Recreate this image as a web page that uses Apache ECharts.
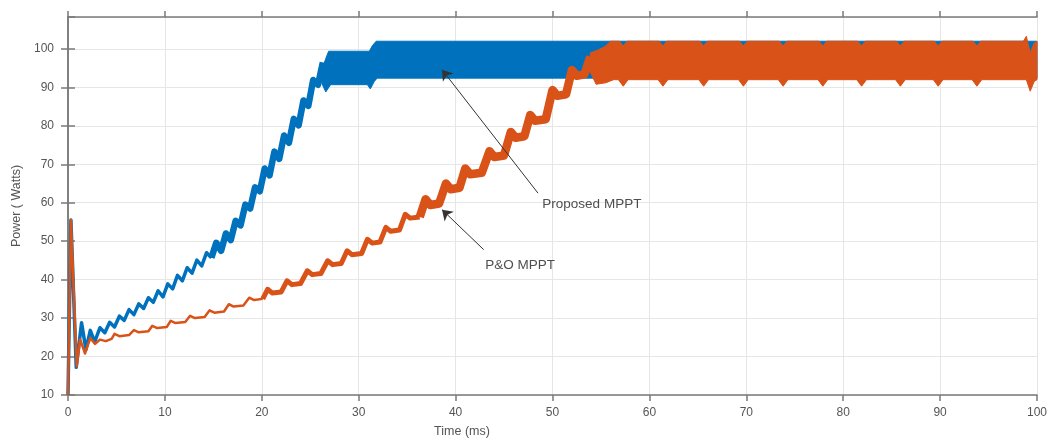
<!DOCTYPE html>
<html><head><meta charset="utf-8">
<script src="https://cdn.jsdelivr.net/npm/echarts@6/dist/echarts.min.js"></script>
<style>html,body{margin:0;padding:0;background:#fff}#c{width:1053px;height:443px}</style>
</head><body><div id="c"></div>
<script>
// ---------------- data: Time (ms) / Power (W) ----------------
// Proposed MPPT (blue)
const blueThinT = [0,0.3,0.85,1.4,1.85,2.3,2.75,3.3,3.8,4.3,4.8,5.3,5.8,6.3,6.8,7.3,7.8,8.3,8.8,9.3,9.8,10.3,10.8,11.3,11.8,12.3,12.8,13.3,13.8,14.3,14.8];
const blueThinP = [10,55.5,17.2,28.8,21.8,26.8,23.8,27.5,26.2,28.9,27.7,30.5,29.4,32.2,30.9,33.7,32.5,35.3,34.1,37.1,35.5,38.9,37.6,41.1,39.7,43.1,41.7,45.1,43.6,47.0,45.7];
const blueThickT = [14.8,15.3,15.8,16.3,16.8,17.3,17.8,18.3,18.8,19.3,19.8,20.3,20.8,21.3,21.8,22.3,22.8,23.3,23.8,24.3,24.8,25.3,25.8,26.3];
const blueThickP = [45.7,49.6,47.5,52.0,50.3,55.3,54.1,59.5,58.5,64.0,63.0,68.9,67.1,73.3,71.4,77.5,75.6,81.8,80.1,86.6,85.2,91.9,90.7,96.5];
const blueBandUpT = [26.2,26.6,26.9,31.1,31.4,31.8,100];
const blueBandUpP = [94.5,97.5,99.4,99.4,100.8,102.0,102.0];
const blueBandLoT = [26.2,26.6,27.1,30.9,31.2,31.6,31.9,100];
const blueBandLoP = [91.0,88.8,90.7,90.7,89.6,91.5,92.4,92.4];

// P&O MPPT (orange)
const orangeThinT = [0,0.3,0.9,1.25,1.75,2.3,2.8,3.3,3.9,4.5,4.8,5.3,6.3,6.8,7.3,8.3,8.7,9.2,10.2,10.6,11.1,12.1,12.6,13.1,14.1,14.6,15.1,16.1,16.6,17.1,18.1,18.7,19.2,20.1];
const orangeThinP = [10,55.5,17.5,24.5,20.8,24.8,23.3,24.4,24.0,24.6,25.9,25.3,25.6,26.9,26.3,26.6,28.0,27.4,27.7,29.3,28.7,29.0,30.6,30.0,30.3,32.0,31.4,31.7,33.6,33.0,33.3,35.3,34.7,35.0];
const orangeMidT = [20.1,20.6,21.1,22.0,22.6,23.1,24.0,24.7,25.2,26.1,26.8,27.3,28.2,28.8,29.3,30.3,30.9,31.4,32.2,32.8,33.3,34.2,34.8,35.3,36.3];
const orangeMidP = [35.0,37.5,36.5,36.8,39.7,38.7,39.0,42.3,41.3,41.6,44.9,43.9,44.2,47.5,46.5,46.8,50.5,49.5,49.8,53.6,52.6,52.9,57.0,56.0,56.3];
const orangeStepT = [36.3,36.9,37.4,38.3,39.0,39.5,40.4,41.0,41.5,42.7,43.5,44.0,45.0,45.7,46.2,47.1,47.7,48.2,49.3,50.0,50.5,51.4,52.0,52.5,53.3,53.9];
const orangeStepP = [56.3,60.9,59.4,59.8,65.0,63.5,63.9,68.9,67.4,67.8,73.4,71.9,72.3,78.4,76.9,77.3,82.8,81.3,81.7,89.3,87.8,88.2,94.5,93.0,93.4,98.0];
const orangeBandUpT = [53.9,54.6,55.4,56.0,56.9,57.3,57.7,61.0,61.4,61.8,65.2,65.6,66.0,69.3,69.7,70.1,73.4,73.8,74.2,77.5,77.9,78.3,81.5,81.9,82.3,85.5,85.9,86.3,89.4,89.8,90.2,93.4,93.8,94.2,98.6,98.9,99.3,99.7,100];
const orangeBandUpP = [99.0,99.6,100.6,102.0,102.0,100.8,102.0,102.0,100.8,102.0,102.0,100.8,102.0,102.0,100.8,102.0,102.0,100.8,102.0,102.0,100.8,102.0,102.0,100.8,102.0,102.0,100.8,102.0,102.0,100.8,102.0,102.0,100.8,102.0,102.0,103.3,99.0,101.5,102.0];
const orangeBandLoT = [53.9,54.5,55.5,56.3,56.8,57.3,57.8,60.9,61.4,61.9,65.1,65.6,66.1,69.2,69.7,70.2,73.3,73.8,74.3,77.4,77.9,78.4,81.4,81.9,82.4,85.4,85.9,86.4,89.3,89.8,90.3,93.3,93.8,94.3,98.9,99.3,99.7,100];
const orangeBandLoP = [94.0,90.8,91.2,92.0,92.0,90.3,92.0,92.0,90.3,92.0,92.0,90.3,92.0,92.0,90.3,92.0,92.0,90.3,92.0,92.0,90.3,92.0,92.0,90.3,92.0,92.0,90.3,92.0,92.0,90.3,92.0,92.0,90.3,92.0,92.0,89.0,91.5,92.0];

// annotations (data coordinates)
const annoLabels = ['Proposed MPPT','P&O MPPT'];
const annoTextT = [48.9, 43.0];
const annoTextP = [59.7, 43.8];
const arrowFromT = [48.5, 42.9];
const arrowFromP = [62.5, 47.8];
const arrowToT = [38.6, 38.6];
const arrowToP = [94.6, 58.2];

// ---------------- chart ----------------
const BLUE = '#0072BD', ORANGE = '#D95319';
const FONT = '"Liberation Sans", Arial, sans-serif';
const pairs = (T, P) => T.map((t, i) => [t, P[i]]);

function lineSeries(T, P, color, width) {
  return { type: 'line', data: pairs(T, P), showSymbol: false, symbol: 'none',
    lineStyle: { color: color, width: width, join: 'round' }, silent: true, animation: false };
}
function bandSeries(UT, UP, LT, LP, color) {
  return { type: 'custom', data: [[UT[0], UP[0]]], silent: true, animation: false,
    renderItem: function (params, api) {
      const pts = [];
      for (let i = 0; i < UT.length; i++) pts.push(api.coord([UT[i], UP[i]]));
      for (let i = LT.length - 1; i >= 0; i--) pts.push(api.coord([LT[i], LP[i]]));
      return { type: 'polygon', shape: { points: pts }, style: { fill: color, stroke: color, lineWidth: 1 } };
    } };
}

const axisLineStyle = { color: '#7a7a7a', width: 1.5 };
const tickLabel = { color: '#555', fontSize: 12, fontFamily: FONT };

const chart = echarts.init(document.getElementById('c'), null, { renderer: 'canvas' });
chart.setOption({
  backgroundColor: '#fff',
  animation: false,
  grid: { left: 68, right: 16, top: 17, bottom: 48, containLabel: false, outerBoundsMode: 'none' },
  xAxis: [
    { type: 'value', min: 0, max: 100, interval: 10, position: 'bottom',
      axisLine: { show: true, lineStyle: axisLineStyle },
      axisTick: { show: true, length: 6, lineStyle: axisLineStyle },
      axisLabel: Object.assign({ margin: 12 }, tickLabel),
      splitLine: { show: true, lineStyle: { color: '#e6e6e6', width: 1 } } },
    { type: 'value', min: 0, max: 100, interval: 10, position: 'top',
      axisLine: { show: true, lineStyle: axisLineStyle },
      axisTick: { show: true, length: 6, lineStyle: axisLineStyle },
      axisLabel: { show: false }, splitLine: { show: false } }
  ],
  yAxis: [
    { type: 'value', min: 10, max: 108.3, interval: 10, position: 'left',
      name: 'Power ( Watts)', nameLocation: 'middle', nameGap: 39, nameRotate: 90,
      nameTextStyle: { color: '#555', fontSize: 12.5, fontFamily: FONT },
      axisLine: { show: true, lineStyle: axisLineStyle },
      axisTick: { show: true, length: 7, lineStyle: axisLineStyle },
      axisLabel: Object.assign({ margin: 14, showMaxLabel: false,
        formatter: v => (Math.abs(v % 10) < 1e-6 ? String(v) : '') }, tickLabel),
      splitLine: { show: true, lineStyle: { color: '#e6e6e6', width: 1 } } },
    { type: 'value', min: 10, max: 108.3, interval: 10, position: 'right',
      axisLine: { show: true, lineStyle: axisLineStyle },
      axisTick: { show: true, length: 7, lineStyle: axisLineStyle },
      axisLabel: { show: false }, splitLine: { show: false } }
  ],
  graphic: [
    { type: 'text', x: 462, y: 432, silent: true,
      style: { text: 'Time (ms)', textAlign: 'center', textVerticalAlign: 'middle',
        font: '12.5px "Liberation Sans", Arial, sans-serif', fill: '#555' } }
  ],
  series: [
    lineSeries(blueThinT, blueThinP, BLUE, 3.5),
    lineSeries(blueThickT, blueThickP, BLUE, 6.5),
    bandSeries(blueBandUpT, blueBandUpP, blueBandLoT, blueBandLoP, BLUE),
    lineSeries(orangeThinT, orangeThinP, ORANGE, 2.5),
    lineSeries(orangeMidT, orangeMidP, ORANGE, 5),
    lineSeries(orangeStepT, orangeStepP, ORANGE, 8.5),
    bandSeries(orangeBandUpT, orangeBandUpP, orangeBandLoT, orangeBandLoP, ORANGE),
    { type: 'scatter', silent: true, animation: false, symbolSize: 1, z: 5,
      itemStyle: { color: 'rgba(0,0,0,0)' },
      data: annoLabels.map((n, i) => ({ name: n, value: [annoTextT[i], annoTextP[i]] })),
      label: { show: true, position: 'right', distance: 0, formatter: '{b}',
        color: '#222', fontSize: 13.5, fontFamily: FONT },
      markLine: { silent: true, animation: false, symbol: ['none', 'arrow'], symbolSize: 10,
        symbolKeepAspect: false,
        label: { show: false }, lineStyle: { color: '#333', width: 1, type: 'solid' },
        itemStyle: { color: '#222' },
        emphasis: { disabled: true },
        data: annoLabels.map((n, i) => [
          { coord: [arrowFromT[i], arrowFromP[i]], symbol: 'none' },
          { coord: [arrowToT[i], arrowToP[i]], symbol: 'arrow', symbolSize: 10, itemStyle: { color: '#222' } }
        ]) } }
  ]
});
</script>
</body></html>
